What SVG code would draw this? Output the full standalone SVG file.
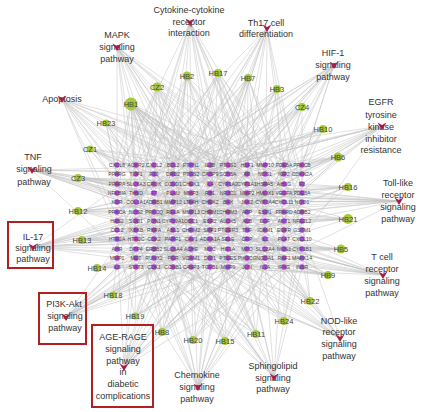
<svg xmlns="http://www.w3.org/2000/svg" xmlns:xlink="http://www.w3.org/1999/xlink" width="430" height="412" viewBox="0 0 430 412">
<defs>
<style>
.e{fill:none;stroke:#c2c2c2;stroke-width:.5}
.herb circle{fill:#a8c93a}
.herb text{font:7.5px "Liberation Sans",Arial,sans-serif;fill:#454545;text-anchor:middle}
.gene circle{fill:#b445d8}
.gene text{font:5.1px "Liberation Sans",Arial,sans-serif;fill:#4a4a4a;text-anchor:middle}
.pw text{font:9px "Liberation Sans",Arial,sans-serif;fill:#333;text-anchor:middle}
.pw use{fill:#a51d47}
.box{fill:none;stroke:#b02020;stroke-width:2}
</style>
<path id="V" d="M-4.5-3.5L0-1 4.5-3.5 0 4Z"/>
</defs>
<rect width="430" height="412" fill="#fff"/>
<g id="edges">
<path class="e" d="M117 47L117 165M117 47L136 174M117 47L154 193M117 47L191 184M117 47L228 202M117 47L265 165M117 47L173 221M117 47L302 174M117 47L210 249M117 47L136 230M117 47L247 212M117 47L284 193M117 47L302 202M117 47L284 239M117 47L265 258M117 47L247 267M117 47L210 202"/>
<path class="e" d="M190 22L117 174M190 22L154 165M190 22L191 193M190 22L228 174M190 22L265 184M190 22L302 212M190 22L173 239M190 22L136 202M190 22L247 230M190 22L210 165M190 22L284 249M190 22L117 249M190 22L302 258M190 22L154 267M190 22L265 212M190 22L228 230"/>
<path class="e" d="M267 28L136 165M267 28L173 184M267 28L210 202M267 28L247 174M267 28L284 165M267 28L302 193M267 28L228 221M267 28L154 212M267 28L265 239M267 28L191 258M267 28L117 230M267 28L136 267M267 28L173 258M267 28L302 239M267 28L210 184"/>
<path class="e" d="M334 65L154 174M334 65L191 165M334 65L228 184M334 65L265 202M334 65L302 165M334 65L284 221M334 65L247 249M334 65L210 193M334 65L173 230M334 65L136 184M334 65L117 212M334 65L117 258M334 65L136 239M334 65L173 267M334 65L191 221M334 65L228 249"/>
<path class="e" d="M382 126L302 184M382 126L284 202M382 126L265 221M382 126L228 165M382 126L191 212M382 126L247 193M382 126L210 230M382 126L154 184M382 126L302 239M382 126L173 174M382 126L117 193M382 126L136 221M382 126L154 249M382 126L117 165M382 126L191 239"/>
<path class="e" d="M62 99L117 184M62 99L136 193M62 99L154 221M62 99L173 202M62 99L191 239M62 99L210 212M62 99L228 193M62 99L117 230M62 99L265 174M62 99L136 258M62 99L302 193M62 99L284 212M62 99L247 249M62 99L302 165M62 99L228 267"/>
<path class="e" d="M32 170L117 193M32 170L136 184M32 170L154 202M32 170L173 212M32 170L191 221M32 170L210 174M32 170L228 239M32 170L247 165M32 170L265 212M32 170L284 230M32 170L117 249M32 170L302 221M32 170L302 174M32 170L284 258M32 170L247 202"/>
<path class="e" d="M33 247L117 221M33 247L136 212M33 247L154 239M33 247L173 249M33 247L191 202M33 247L210 221M33 247L228 258M33 247L247 239M33 247L265 230M33 247L117 258M33 247L284 267M33 247L136 174M33 247L302 193M33 247L302 239M33 247L284 184M33 247L247 193M33 247L265 202"/>
<path class="e" d="M66 317L117 267M66 317L136 249M66 317L154 258M66 317L173 230M66 317L191 249M66 317L210 239M66 317L228 212M66 317L247 221M66 317L265 258M66 317L284 239M66 317L302 221M66 317L154 193M66 317L302 193M66 317L284 184M66 317L247 174M66 317L210 184M66 317L265 202"/>
<path class="e" d="M124 367L117 239M124 367L136 267M124 367L154 249M124 367L173 258M124 367L191 267M124 367L210 258M124 367L228 230M124 367L247 249M124 367L265 249M124 367L284 212M124 367L302 258M124 367L173 202M124 367L302 212M124 367L265 184M124 367L228 174M124 367L191 193M124 367L136 202"/>
<path class="e" d="M198 387L117 258M198 387L136 239M198 387L154 267M198 387L173 267M198 387L191 230M198 387L210 267M198 387L228 249M198 387L247 267M198 387L265 221M198 387L284 258M198 387L302 249M198 387L210 212M198 387L302 202M198 387L117 212M198 387L154 193M198 387L247 184M198 387L284 221"/>
<path class="e" d="M274 377L136 249M274 377L154 230M274 377L191 258M274 377L210 249M274 377L228 267M274 377L247 258M274 377L265 267M274 377L284 221M274 377L302 267M274 377L173 239M274 377L117 221M274 377L136 193M274 377L154 212M274 377L228 184M274 377L302 221"/>
<path class="e" d="M340 338L154 258M340 338L191 239M340 338L228 249M340 338L247 230M340 338L265 249M340 338L284 267M340 338L302 230M340 338L210 258M340 338L173 267M340 338L117 249M340 338L136 221M340 338L154 202M340 338L191 193M340 338L247 212"/>
<path class="e" d="M383 275L173 249M383 275L210 230M383 275L228 221M383 275L247 239M383 275L265 258M383 275L284 249M383 275L302 239M383 275L191 212M383 275L154 230M383 275L117 230M383 275L136 249M383 275L117 202M383 275L154 212M383 275L191 267"/>
<path class="e" d="M399 201L154 202M399 201L191 193M399 201L228 212M399 201L247 202M399 201L265 193M399 201L284 212M399 201L302 202M399 201L210 184M399 201L173 193M399 201L302 249M399 201L117 193M399 201L117 230M399 201L136 212M399 201L136 174M399 201L154 249"/>
<path class="e" d="M131 104L117 165M131 104L136 165M131 104L154 165M131 104L173 165M131 104L191 174M131 104L210 184M131 104L228 174M131 104L247 184M131 104L265 193M131 104L284 202M131 104L302 212M131 104L117 202M131 104L136 221M131 104L154 230M131 104L173 249M131 104L191 267M131 104L210 239M131 104L228 258M131 104L247 221M131 104L265 249M131 104L284 258M131 104L302 267M131 104L136 193M131 104L191 212M131 104L302 184M131 104L284 230M131 104L265 212M131 104L228 221M131 104L302 239M131 104L247 249"/>
<path class="e" d="M157 87L117 174M157 87L154 184M157 87L173 202M157 87L210 193M157 87L247 212M157 87L284 184M157 87L302 230M157 87L191 249M157 87L136 239M157 87L228 267M157 87L302 249M157 87L265 267M157 87L117 230"/>
<path class="e" d="M187 76L136 165M187 76L173 174M187 76L210 165M187 76L247 184M187 76L284 174M187 76L154 212M187 76L191 230M187 76L265 239M187 76L228 202M187 76L117 258M187 76L302 258M187 76L154 267"/>
<path class="e" d="M218 73L154 174M218 73L191 184M218 73L228 165M218 73L265 174M218 73L302 184M218 73L173 212M218 73L210 221M218 73L247 258M218 73L136 249M218 73L117 239M218 73L302 249M218 73L284 267"/>
<path class="e" d="M248 78L173 165M248 78L210 174M248 78L247 165M248 78L284 184M248 78L302 202M248 78L191 221M248 78L228 239M248 78L265 230M248 78L154 249M248 78L117 221M248 78L136 258M248 78L302 230"/>
<path class="e" d="M277 89L191 165M277 89L228 184M277 89L265 165M277 89L302 174M277 89L210 202M277 89L247 221M277 89L173 239M277 89L284 249M277 89L117 212M277 89L136 239M277 89L154 267"/>
<path class="e" d="M302 107L210 165M302 107L247 174M302 107L284 174M302 107L302 193M302 107L265 212M302 107L228 230M302 107L191 202M302 107L173 258M302 107L117 202M302 107L136 230M302 107L154 249"/>
<path class="e" d="M323 129L228 174M323 129L265 184M323 129L302 165M323 129L284 221M323 129L247 239M323 129L210 212M323 129L173 184M323 129L117 212M323 129L136 230M323 129L154 193M323 129L117 184"/>
<path class="e" d="M106 123L117 174M106 123L136 184M106 123L154 193M106 123L173 221M106 123L210 230M106 123L247 193M106 123L136 267M106 123L302 193M106 123L284 221M106 123L265 239"/>
<path class="e" d="M90 149L117 165M90 149L136 202M90 149L154 174M90 149L191 193M90 149L228 221M90 149L265 202M90 149L173 258M90 149L302 174M90 149L284 184M90 149L247 212"/>
<path class="e" d="M78 178L117 184M78 178L136 193M78 178L154 212M78 178L191 202M78 178L228 193M78 178L265 221M78 178L302 184M78 178L173 230M78 178L302 193M78 178L284 202M78 178L247 184"/>
<path class="e" d="M78 211L117 202M78 211L136 221M78 211L154 193M78 211L173 212M78 211L210 202M78 211L247 230M78 211L284 193M78 211L191 239M78 211L302 212M78 211L284 221M78 211L265 193"/>
<path class="e" d="M82 240L117 230M82 240L136 239M82 240L154 221M82 240L191 230M82 240L228 249M82 240L265 239M82 240L302 221M82 240L173 202M82 240L302 249M82 240L284 239M82 240L247 212"/>
<path class="e" d="M97 268L117 258M97 268L136 267M97 268L154 249M97 268L191 258M97 268L228 239M97 268L265 267M97 268L210 221M97 268L302 258M97 268L284 249M97 268L247 239"/>
<path class="e" d="M338 157L302 165M338 157L284 174M338 157L247 193M338 157L210 184M338 157L173 174M338 157L228 212M338 157L265 230M338 157L117 193M338 157L136 212M338 157L154 230"/>
<path class="e" d="M348 187L302 184M348 187L265 193M348 187L228 184M348 187L191 202M348 187L154 193M348 187L247 221M348 187L284 239M348 187L117 221M348 187L136 202M348 187L154 258"/>
<path class="e" d="M348 219L302 221M348 219L265 212M348 219L228 221M348 219L191 230M348 219L154 221M348 219L247 249M348 219L284 202M348 219L117 239M348 219L136 193M348 219L154 212"/>
<path class="e" d="M341 249L302 249M341 249L265 249M341 249L228 239M341 249L191 249M341 249L154 239M341 249L247 258M341 249L284 230M341 249L117 221M341 249L136 239M341 249L154 258"/>
<path class="e" d="M328 275L302 267M328 275L265 258M328 275L228 267M328 275L191 258M328 275L247 230M328 275L284 249M328 275L173 249M328 275L117 249M328 275L136 230M328 275L154 221"/>
<path class="e" d="M113 295L117 258M113 295L136 249M113 295L154 267M113 295L191 239M113 295L228 258M113 295L173 230M113 295L302 230M113 295L265 212M113 295L247 202"/>
<path class="e" d="M135 316L136 267M135 316L154 258M135 316L173 249M135 316L210 267M135 316L247 249M135 316L117 239M135 316L302 239M135 316L284 221M135 316L265 193"/>
<path class="e" d="M162 332L154 267M162 332L173 258M162 332L191 249M162 332L228 258M162 332L265 249M162 332L136 230M162 332L302 221M162 332L284 193M162 332L210 202"/>
<path class="e" d="M193 340L173 267M193 340L191 267M193 340L210 258M193 340L247 267M193 340L284 258M193 340L154 239M193 340L302 212M193 340L265 193M193 340L117 202"/>
<path class="e" d="M310 301L302 258M310 301L284 267M310 301L247 249M310 301L210 239M310 301L265 230M310 301L302 212M310 301L117 230M310 301L154 202M310 301L191 193"/>
<path class="e" d="M284 321L284 258M284 321L265 267M284 321L228 249M284 321L191 239M284 321L302 249M284 321L117 221M284 321L154 212M284 321L210 193"/>
<path class="e" d="M256 334L247 267M256 334L228 258M256 334L210 249M256 334L265 239M256 334L173 258M256 334L117 249M256 334L136 212M256 334L191 193"/>
<path class="e" d="M225 341L210 267M225 341L191 258M225 341L228 249M225 341L173 249M225 341L154 258M225 341L117 239M225 341L136 193M225 341L302 202"/>
</g>
<g id="genes" class="gene">
<g id="n-CXCL8"><circle cx="117" cy="165" r="2.7"/><text x="117" y="166.8">CXCL8</text></g>
<g id="n-ACKR2"><circle cx="136" cy="165" r="2.7"/><text x="136" y="166.8">ACKR2</text></g>
<g id="n-CXCL2"><circle cx="154" cy="165" r="2.7"/><text x="154" y="166.8">CXCL2</text></g>
<g id="n-BCL2"><circle cx="173" cy="165" r="2.7"/><text x="173" y="166.8">BCL2</text></g>
<g id="n-PTPN1"><circle cx="191" cy="165" r="2.7"/><text x="191" y="166.8">PTPN1</text></g>
<g id="n-IL1B"><circle cx="210" cy="165" r="2.7"/><text x="210" y="166.8">IL1B</text></g>
<g id="n-PTGS1"><circle cx="228" cy="165" r="2.7"/><text x="228" y="166.8">PTGS1</text></g>
<g id="n-HSF1"><circle cx="247" cy="165" r="2.7"/><text x="247" y="166.8">HSF1</text></g>
<g id="n-MMP10"><circle cx="265" cy="165" r="2.7"/><text x="265" y="166.8">MMP10</text></g>
<g id="n-PDE5A"><circle cx="284" cy="165" r="2.7"/><text x="284" y="166.8">PDE5A</text></g>
<g id="n-PRKCB"><circle cx="302" cy="165" r="2.7"/><text x="302" y="166.8">PRKCB</text></g>
<g id="n-PPARG"><circle cx="117" cy="174" r="2.7"/><text x="117" y="175.8">PPARG</text></g>
<g id="n-TOP1"><circle cx="136" cy="174" r="2.7"/><text x="136" y="175.8">TOP1</text></g>
<g id="n-F10"><circle cx="154" cy="174" r="2.7"/><text x="154" y="175.8">F10</text></g>
<g id="n-DRD2"><circle cx="173" cy="174" r="2.7"/><text x="173" y="175.8">DRD2</text></g>
<g id="n-PTGS2"><circle cx="191" cy="174" r="2.7"/><text x="191" y="175.8">PTGS2</text></g>
<g id="n-CASP9"><circle cx="210" cy="174" r="2.7"/><text x="210" y="175.8">CASP9</text></g>
<g id="n-SCN5A"><circle cx="228" cy="174" r="2.7"/><text x="228" y="175.8">SCN5A</text></g>
<g id="n-AR"><circle cx="247" cy="174" r="2.7"/><text x="247" y="175.8">AR</text></g>
<g id="n-NOS1"><circle cx="265" cy="174" r="2.7"/><text x="265" y="175.8">NOS1</text></g>
<g id="n-IGF2"><circle cx="284" cy="174" r="2.7"/><text x="284" y="175.8">IGF2</text></g>
<g id="n-CDKN2A"><circle cx="302" cy="174" r="2.7"/><text x="302" y="175.8">CDKN2A</text></g>
<g id="n-PPARA"><circle cx="117" cy="184" r="2.7"/><text x="117" y="185.8">PPARA</text></g>
<g id="n-SLC6A3"><circle cx="136" cy="184" r="2.7"/><text x="136" y="185.8">SLC6A3</text></g>
<g id="n-CPOX"><circle cx="154" cy="184" r="2.7"/><text x="154" y="185.8">CPOX</text></g>
<g id="n-CCND1"><circle cx="173" cy="184" r="2.7"/><text x="173" y="185.8">CCND1</text></g>
<g id="n-CHEK1"><circle cx="191" cy="184" r="2.7"/><text x="191" y="185.8">CHEK1</text></g>
<g id="n-IL4"><circle cx="210" cy="184" r="2.7"/><text x="210" y="185.8">IL4</text></g>
<g id="n-CYP1A2"><circle cx="228" cy="184" r="2.7"/><text x="228" y="185.8">CYP1A2</text></g>
<g id="n-CYP1A1"><circle cx="247" cy="184" r="2.7"/><text x="247" y="185.8">CYP1A1</text></g>
<g id="n-HSPA5"><circle cx="265" cy="184" r="2.7"/><text x="265" y="185.8">HSPA5</text></g>
<g id="n-AHSG"><circle cx="284" cy="184" r="2.7"/><text x="284" y="185.8">AHSG</text></g>
<g id="n-F2"><circle cx="302" cy="184" r="2.7"/><text x="302" y="185.8">F2</text></g>
<g id="n-NFKBIA"><circle cx="117" cy="193" r="2.7"/><text x="117" y="194.8">NFKBIA</text></g>
<g id="n-THBD"><circle cx="136" cy="193" r="2.7"/><text x="136" y="194.8">THBD</text></g>
<g id="n-F7"><circle cx="154" cy="193" r="2.7"/><text x="154" y="194.8">F7</text></g>
<g id="n-PLAU"><circle cx="173" cy="193" r="2.7"/><text x="173" y="194.8">PLAU</text></g>
<g id="n-MMP3"><circle cx="191" cy="193" r="2.7"/><text x="191" y="194.8">MMP3</text></g>
<g id="n-RB1"><circle cx="210" cy="193" r="2.7"/><text x="210" y="194.8">RB1</text></g>
<g id="n-NR3C1"><circle cx="228" cy="193" r="2.7"/><text x="228" y="194.8">NR3C1</text></g>
<g id="n-MMP2"><circle cx="247" cy="193" r="2.7"/><text x="247" y="194.8">MMP2</text></g>
<g id="n-HMOX1"><circle cx="265" cy="193" r="2.7"/><text x="265" y="194.8">HMOX1</text></g>
<g id="n-VEGFA"><circle cx="284" cy="193" r="2.7"/><text x="284" y="194.8">VEGFA</text></g>
<g id="n-PDE3A"><circle cx="302" cy="193" r="2.7"/><text x="302" y="194.8">PDE3A</text></g>
<g id="n-KDR"><circle cx="117" cy="202" r="2.7"/><text x="117" y="203.8">KDR</text></g>
<g id="n-COL1A1"><circle cx="136" cy="202" r="2.7"/><text x="136" y="203.8">COL1A1</text></g>
<g id="n-ADRB1"><circle cx="154" cy="202" r="2.7"/><text x="154" y="203.8">ADRB1</text></g>
<g id="n-MMP12"><circle cx="173" cy="202" r="2.7"/><text x="173" y="203.8">MMP12</text></g>
<g id="n-LTA4H"><circle cx="191" cy="202" r="2.7"/><text x="191" y="203.8">LTA4H</text></g>
<g id="n-CHEK2"><circle cx="210" cy="202" r="2.7"/><text x="210" y="203.8">CHEK2</text></g>
<g id="n-BAX"><circle cx="228" cy="202" r="2.7"/><text x="228" y="203.8">BAX</text></g>
<g id="n-JAK2"><circle cx="247" cy="202" r="2.7"/><text x="247" y="203.8">JAK2</text></g>
<g id="n-CYP3A4"><circle cx="265" cy="202" r="2.7"/><text x="265" y="203.8">CYP3A4</text></g>
<g id="n-CXCL11"><circle cx="284" cy="202" r="2.7"/><text x="284" y="203.8">CXCL11</text></g>
<g id="n-NQO1"><circle cx="302" cy="202" r="2.7"/><text x="302" y="203.8">NQO1</text></g>
<g id="n-PRKCA"><circle cx="117" cy="212" r="2.7"/><text x="117" y="213.8">PRKCA</text></g>
<g id="n-NOS2"><circle cx="136" cy="212" r="2.7"/><text x="136" y="213.8">NOS2</text></g>
<g id="n-PRKCQ"><circle cx="154" cy="212" r="2.7"/><text x="154" y="213.8">PRKCQ</text></g>
<g id="n-RELA"><circle cx="173" cy="212" r="2.7"/><text x="173" y="213.8">RELA</text></g>
<g id="n-MMP13"><circle cx="191" cy="212" r="2.7"/><text x="191" y="213.8">MMP13</text></g>
<g id="n-CHRM1"><circle cx="210" cy="212" r="2.7"/><text x="210" y="213.8">CHRM1</text></g>
<g id="n-CHRM3"><circle cx="228" cy="212" r="2.7"/><text x="228" y="213.8">CHRM3</text></g>
<g id="n-APP"><circle cx="247" cy="212" r="2.7"/><text x="247" y="213.8">APP</text></g>
<g id="n-ESR1"><circle cx="265" cy="212" r="2.7"/><text x="265" y="213.8">ESR1</text></g>
<g id="n-PPARD"><circle cx="284" cy="212" r="2.7"/><text x="284" y="213.8">PPARD</text></g>
<g id="n-ADRB2"><circle cx="302" cy="212" r="2.7"/><text x="302" y="213.8">ADRB2</text></g>
<g id="n-HAS2"><circle cx="117" cy="221" r="2.7"/><text x="117" y="222.8">HAS2</text></g>
<g id="n-SOD1"><circle cx="136" cy="221" r="2.7"/><text x="136" y="222.8">SOD1</text></g>
<g id="n-PON1"><circle cx="154" cy="221" r="2.7"/><text x="154" y="222.8">PON1</text></g>
<g id="n-CYP19A1"><circle cx="173" cy="221" r="2.7"/><text x="173" y="222.8">CYP19A1</text></g>
<g id="n-ODC1"><circle cx="191" cy="221" r="2.7"/><text x="191" y="222.8">ODC1</text></g>
<g id="n-ESR2"><circle cx="210" cy="221" r="2.7"/><text x="210" y="222.8">ESR2</text></g>
<g id="n-ALOX5"><circle cx="228" cy="221" r="2.7"/><text x="228" y="222.8">ALOX5</text></g>
<g id="n-ALB"><circle cx="247" cy="221" r="2.7"/><text x="247" y="222.8">ALB</text></g>
<g id="n-EGF"><circle cx="265" cy="221" r="2.7"/><text x="265" y="222.8">EGF</text></g>
<g id="n-AKT1"><circle cx="284" cy="221" r="2.7"/><text x="284" y="222.8">AKT1</text></g>
<g id="n-NFE2L2"><circle cx="302" cy="221" r="2.7"/><text x="302" y="222.8">NFE2L2</text></g>
<g id="n-CCL2"><circle cx="117" cy="230" r="2.7"/><text x="117" y="231.8">CCL2</text></g>
<g id="n-IKBKB"><circle cx="136" cy="230" r="2.7"/><text x="136" y="231.8">IKBKB</text></g>
<g id="n-RXRA"><circle cx="154" cy="230" r="2.7"/><text x="154" y="231.8">RXRA</text></g>
<g id="n-ABL1"><circle cx="173" cy="230" r="2.7"/><text x="173" y="231.8">ABL1</text></g>
<g id="n-CHRM2"><circle cx="191" cy="230" r="2.7"/><text x="191" y="231.8">CHRM2</text></g>
<g id="n-SPP1"><circle cx="210" cy="230" r="2.7"/><text x="210" y="231.8">SPP1</text></g>
<g id="n-PTGER3"><circle cx="228" cy="230" r="2.7"/><text x="228" y="231.8">PTGER3</text></g>
<g id="n-TNF"><circle cx="247" cy="230" r="2.7"/><text x="247" y="231.8">TNF</text></g>
<g id="n-ICAM1"><circle cx="265" cy="230" r="2.7"/><text x="265" y="231.8">ICAM1</text></g>
<g id="n-EGFR"><circle cx="284" cy="230" r="2.7"/><text x="284" y="231.8">EGFR</text></g>
<g id="n-GSTM1"><circle cx="302" cy="230" r="2.7"/><text x="302" y="231.8">GSTM1</text></g>
<g id="n-HTR2A"><circle cx="117" cy="239" r="2.7"/><text x="117" y="240.8">HTR2A</text></g>
<g id="n-HTR2C"><circle cx="136" cy="239" r="2.7"/><text x="136" y="240.8">HTR2C</text></g>
<g id="n-CDK2"><circle cx="154" cy="239" r="2.7"/><text x="154" y="240.8">CDK2</text></g>
<g id="n-PARP1"><circle cx="173" cy="239" r="2.7"/><text x="173" y="240.8">PARP1</text></g>
<g id="n-CAV1"><circle cx="191" cy="239" r="2.7"/><text x="191" y="240.8">CAV1</text></g>
<g id="n-ADRA1A"><circle cx="210" cy="239" r="2.7"/><text x="210" y="240.8">ADRA1A</text></g>
<g id="n-SELE"><circle cx="228" cy="239" r="2.7"/><text x="228" y="240.8">SELE</text></g>
<g id="n-CRP"><circle cx="247" cy="239" r="2.7"/><text x="247" y="240.8">CRP</text></g>
<g id="n-IL2"><circle cx="265" cy="239" r="2.7"/><text x="265" y="240.8">IL2</text></g>
<g id="n-PLAT"><circle cx="284" cy="239" r="2.7"/><text x="284" y="240.8">PLAT</text></g>
<g id="n-CXCL10"><circle cx="302" cy="239" r="2.7"/><text x="302" y="240.8">CXCL10</text></g>
<g id="n-AHR"><circle cx="117" cy="249" r="2.7"/><text x="117" y="250.8">AHR</text></g>
<g id="n-DPP4"><circle cx="136" cy="249" r="2.7"/><text x="136" y="250.8">DPP4</text></g>
<g id="n-ERBB2"><circle cx="154" cy="249" r="2.7"/><text x="154" y="250.8">ERBB2</text></g>
<g id="n-SLC6A4"><circle cx="173" cy="249" r="2.7"/><text x="173" y="250.8">SLC6A4</text></g>
<g id="n-ACHE"><circle cx="191" cy="249" r="2.7"/><text x="191" y="250.8">ACHE</text></g>
<g id="n-MYC"><circle cx="210" cy="249" r="2.7"/><text x="210" y="250.8">MYC</text></g>
<g id="n-HIF1A"><circle cx="228" cy="249" r="2.7"/><text x="228" y="250.8">HIF1A</text></g>
<g id="n-MPO"><circle cx="247" cy="249" r="2.7"/><text x="247" y="250.8">MPO</text></g>
<g id="n-SLC2A4"><circle cx="265" cy="249" r="2.7"/><text x="265" y="250.8">SLC2A4</text></g>
<g id="n-NOS3"><circle cx="284" cy="249" r="2.7"/><text x="284" y="250.8">NOS3</text></g>
<g id="n-CYP1B1"><circle cx="302" cy="249" r="2.7"/><text x="302" y="250.8">CYP1B1</text></g>
<g id="n-MMP1"><circle cx="117" cy="258" r="2.7"/><text x="117" y="259.8">MMP1</text></g>
<g id="n-MET"><circle cx="136" cy="258" r="2.7"/><text x="136" y="259.8">MET</text></g>
<g id="n-RUNX2"><circle cx="154" cy="258" r="2.7"/><text x="154" y="259.8">RUNX2</text></g>
<g id="n-PGR"><circle cx="173" cy="258" r="2.7"/><text x="173" y="259.8">PGR</text></g>
<g id="n-VCAM1"><circle cx="191" cy="258" r="2.7"/><text x="191" y="259.8">VCAM1</text></g>
<g id="n-DIO1"><circle cx="210" cy="258" r="2.7"/><text x="210" y="259.8">DIO1</text></g>
<g id="n-PTGES"><circle cx="228" cy="258" r="2.7"/><text x="228" y="259.8">PTGES</text></g>
<g id="n-PIK3CG"><circle cx="247" cy="258" r="2.7"/><text x="247" y="259.8">PIK3CG</text></g>
<g id="n-NCOA1"><circle cx="265" cy="258" r="2.7"/><text x="265" y="259.8">NCOA1</text></g>
<g id="n-RAF1"><circle cx="284" cy="258" r="2.7"/><text x="284" y="259.8">RAF1</text></g>
<g id="n-MAPK14"><circle cx="302" cy="258" r="2.7"/><text x="302" y="259.8">MAPK14</text></g>
<g id="n-IL6"><circle cx="117" cy="267" r="2.7"/><text x="117" y="268.8">IL6</text></g>
<g id="n-STAT3"><circle cx="136" cy="267" r="2.7"/><text x="136" y="268.8">STAT3</text></g>
<g id="n-CDK1"><circle cx="154" cy="267" r="2.7"/><text x="154" y="268.8">CDK1</text></g>
<g id="n-CCNB1"><circle cx="173" cy="267" r="2.7"/><text x="173" y="268.8">CCNB1</text></g>
<g id="n-CASP3"><circle cx="191" cy="267" r="2.7"/><text x="191" y="268.8">CASP3</text></g>
<g id="n-TGFB1"><circle cx="210" cy="267" r="2.7"/><text x="210" y="268.8">TGFB1</text></g>
<g id="n-MMP9"><circle cx="228" cy="267" r="2.7"/><text x="228" y="268.8">MMP9</text></g>
<g id="n-JUN"><circle cx="247" cy="267" r="2.7"/><text x="247" y="268.8">JUN</text></g>
<g id="n-IL1A"><circle cx="265" cy="267" r="2.7"/><text x="265" y="268.8">IL1A</text></g>
<g id="n-IFNG"><circle cx="284" cy="267" r="2.7"/><text x="284" y="268.8">IFNG</text></g>
<g id="n-INSR"><circle cx="302" cy="267" r="2.7"/><text x="302" y="268.8">INSR</text></g>
</g>
<g id="herbs" class="herb">
<g id="HB1"><circle cx="131" cy="104" r="6.5"/><text x="131" y="106.6">HB1</text></g>
<g id="CZ2"><circle cx="157" cy="87" r="4.5"/><text x="157" y="89.6">CZ2</text></g>
<g id="HB2"><circle cx="187" cy="76" r="4.5"/><text x="187" y="78.6">HB2</text></g>
<g id="HB17"><circle cx="218" cy="73" r="4"/><text x="218" y="75.6">HB17</text></g>
<g id="HB7"><circle cx="248" cy="78" r="4"/><text x="248" y="80.6">HB7</text></g>
<g id="HB3"><circle cx="277" cy="89" r="4"/><text x="277" y="91.6">HB3</text></g>
<g id="CZ4"><circle cx="302" cy="107" r="4"/><text x="302" y="109.6">CZ4</text></g>
<g id="HB10"><circle cx="323" cy="129" r="4"/><text x="323" y="131.6">HB10</text></g>
<g id="HB23"><circle cx="106" cy="123" r="3.5"/><text x="106" y="125.6">HB23</text></g>
<g id="CZ1"><circle cx="90" cy="149" r="3.5"/><text x="90" y="151.6">CZ1</text></g>
<g id="CZ3"><circle cx="78" cy="178" r="4"/><text x="78" y="180.6">CZ3</text></g>
<g id="HB12"><circle cx="78" cy="211" r="4"/><text x="78" y="213.6">HB12</text></g>
<g id="HB13"><circle cx="82" cy="240" r="4"/><text x="82" y="242.6">HB13</text></g>
<g id="HB14"><circle cx="97" cy="268" r="4"/><text x="97" y="270.6">HB14</text></g>
<g id="HB6"><circle cx="338" cy="157" r="4.5"/><text x="338" y="159.6">HB6</text></g>
<g id="HB16"><circle cx="348" cy="187" r="4"/><text x="348" y="189.6">HB16</text></g>
<g id="HB21"><circle cx="348" cy="219" r="5"/><text x="348" y="221.6">HB21</text></g>
<g id="HB5"><circle cx="341" cy="249" r="4.5"/><text x="341" y="251.6">HB5</text></g>
<g id="HB9"><circle cx="328" cy="275" r="4"/><text x="328" y="277.6">HB9</text></g>
<g id="HB18"><circle cx="113" cy="295" r="3.5"/><text x="113" y="297.6">HB18</text></g>
<g id="HB19"><circle cx="135" cy="316" r="3.5"/><text x="135" y="318.6">HB19</text></g>
<g id="HB8"><circle cx="162" cy="332" r="4"/><text x="162" y="334.6">HB8</text></g>
<g id="HB20"><circle cx="193" cy="340" r="4"/><text x="193" y="342.6">HB20</text></g>
<g id="HB22"><circle cx="310" cy="301" r="4"/><text x="310" y="303.6">HB22</text></g>
<g id="HB24"><circle cx="284" cy="321" r="4"/><text x="284" y="323.6">HB24</text></g>
<g id="HB11"><circle cx="256" cy="334" r="4"/><text x="256" y="336.6">HB11</text></g>
<g id="HB15"><circle cx="225" cy="341" r="4"/><text x="225" y="343.6">HB15</text></g>
</g>
<g id="pathways" class="pw">
<g id="p-mapk"><text x="117" y="37.5">MAPK</text><text x="117" y="49.7">signaling</text><text x="117" y="61.8">pathway</text><use xlink:href="#V" x="117" y="47"/></g>
<g id="p-cytokine"><text x="189" y="13">Cytokine-cytokine</text><text x="189" y="24.7">receptor</text><text x="189" y="36.3">interaction</text><use xlink:href="#V" x="190" y="22"/></g>
<g id="p-th17"><text x="266" y="25.7">Th17 cell</text><text x="266" y="37">differentiation</text><use xlink:href="#V" x="267" y="28"/></g>
<g id="p-hif1"><text x="333" y="56.3">HIF-1</text><text x="333" y="68.3">signaling</text><text x="333" y="80.3">pathway</text><use xlink:href="#V" x="334" y="65"/></g>
<g id="p-egfr"><text x="381" y="105.3">EGFR</text><text x="381" y="117.6">tyrosine</text><text x="381" y="129.6">kinase</text><text x="381" y="141.5">inhibitor</text><text x="381" y="153">resistance</text><use xlink:href="#V" x="382" y="126"/></g>
<g id="p-apoptosis"><text x="62" y="102">Apoptosis</text><use xlink:href="#V" x="62" y="99"/></g>
<g id="p-tnf"><text x="33" y="159.7">TNF</text><text x="34" y="172.3">signaling</text><text x="34" y="184.7">pathway</text><use xlink:href="#V" x="32" y="170"/></g>
<g id="p-il17"><rect class="box" x="8" y="222" width="45" height="46"/><text x="33" y="239.5">IL-17</text><text x="33" y="251">signaling</text><text x="33" y="262">pathway</text><use xlink:href="#V" x="33" y="247"/></g>
<g id="p-pi3k"><rect class="box" x="39" y="293" width="47" height="51"/><text x="64" y="307">PI3K-Akt</text><text x="65" y="319">signaling</text><text x="65" y="330.7">pathway</text><use xlink:href="#V" x="66" y="317"/></g>
<g id="p-age"><rect class="box" x="92" y="325" width="61" height="82"/><text x="123" y="340.3">AGE-RAGE</text><text x="123" y="352.3">signaling</text><text x="123" y="363.7">pathway</text><text x="123" y="375.3">in</text><text x="123" y="387">diabetic</text><text x="123" y="399">complications</text><use xlink:href="#V" x="124" y="367"/></g>
<g id="p-chemokine"><text x="197" y="378">Chemokine</text><text x="197" y="390.3">signaling</text><text x="197" y="401.7">pathway</text><use xlink:href="#V" x="198" y="387"/></g>
<g id="p-sphingo"><text x="273" y="369">Sphingolipid</text><text x="273" y="380.7">signaling</text><text x="273" y="392.3">pathway</text><use xlink:href="#V" x="274" y="377"/></g>
<g id="p-nod"><text x="339" y="323.7">NOD-like</text><text x="339" y="335.3">receptor</text><text x="339" y="347">signaling</text><text x="339" y="359">pathway</text><use xlink:href="#V" x="340" y="338"/></g>
<g id="p-tcell"><text x="382" y="260.3">T cell</text><text x="382" y="272.3">receptor</text><text x="382" y="284.2">signaling</text><text x="382" y="296">pathway</text><use xlink:href="#V" x="383" y="275"/></g>
<g id="p-toll"><text x="398" y="186.3">Toll-like</text><text x="398" y="198">receptor</text><text x="398" y="210.3">signaling</text><text x="398" y="222">pathway</text><use xlink:href="#V" x="399" y="201"/></g>
</g>
</svg>
